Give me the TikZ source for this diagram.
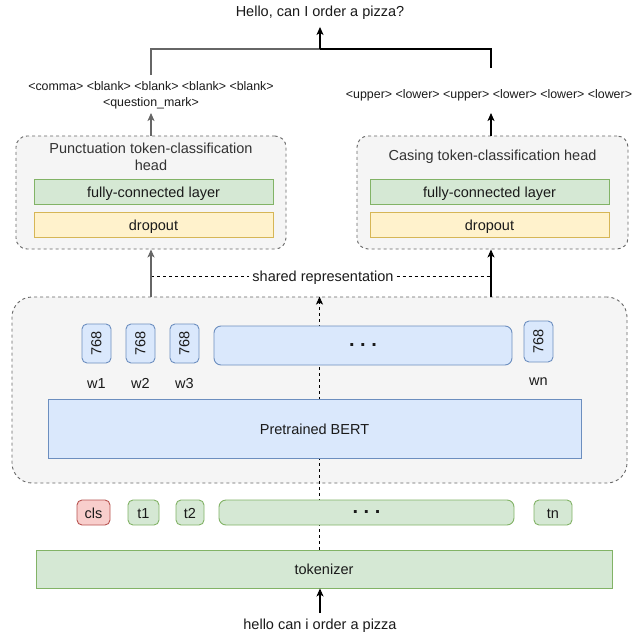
\documentclass[tikz,border=0pt]{standalone}
\usepackage{fontspec}
\usepackage{graphicx}
\setmainfont{Liberation Sans}
\usetikzlibrary{arrows.meta}
\definecolor{txt}{HTML}{1A1A1A}
\definecolor{ttl}{HTML}{333333}
\definecolor{contfill}{HTML}{F5F5F5}
\definecolor{contdraw}{HTML}{666666}
\definecolor{gfill}{HTML}{D5E8D4}
\definecolor{gdraw}{HTML}{82B366}
\definecolor{yfill}{HTML}{FFF2CC}
\definecolor{ydraw}{HTML}{D6B656}
\definecolor{bfill}{HTML}{DAE8FC}
\definecolor{bdraw}{HTML}{6C8EBF}
\definecolor{rfill}{HTML}{F8CECC}
\definecolor{rdraw}{HTML}{B85450}
\definecolor{garr}{HTML}{666666}
\tikzset{
  base/.style={font=\fontsize{14.5}{17}\selectfont, text=txt, inner sep=0pt},
  lbl/.style={base, text height=12pt, text depth=1pt},
  container/.style={draw=contdraw, fill=contfill, dash pattern=on 3pt off 3pt, line width=0.9pt, inner sep=0pt},
  greenbox/.style={draw=gdraw, fill=gfill, line width=0.9pt, lbl},
  yellowbox/.style={draw=ydraw, fill=yfill, line width=0.9pt, lbl},
  bluebox/.style={draw=bdraw, fill=bfill, line width=0.9pt, base},
  bluelbl/.style={draw=bdraw, fill=bfill, line width=0.9pt, lbl},
  redbox/.style={draw=rdraw, fill=rfill, line width=0.9pt, lbl},
  small/.style={font=\fontsize{12.4}{16.5}\selectfont, text=txt, inner sep=0pt, align=center},
  arr/.style={-{Stealth[length=8pt,width=7pt,inset=2pt]}, line width=1.1pt},
  dotsfont/.style={font=\fontsize{20}{20}\selectfont\bfseries\frenchspacing},
}
\begin{document}
\begin{tikzpicture}[x=1pt,y=-1pt]
\fill[white] (0,0) rectangle (633,634);
\useasboundingbox (0,0) rectangle (633,634);

% output text
\node[base, inner sep=7pt] (out) at (320,13) {Hello, can I order a pizza?};

% label rows
\node[small] (plabel) at (151,95.25) {<comma> <blank> <blank> <blank> <blank>\\<question\_mark>};
\node[small] (clabel) at (489,95) {<upper> <lower> <upper> <lower> <lower> <lower>};
\coordinate (pin) at (151,113);
\coordinate (pout) at (151,75);
\coordinate (cin) at (491,113);
\coordinate (cout) at (491,68);
\coordinate (join) at (320,49);

% heads
\node[container, rounded corners=11pt, minimum width=270, minimum height=113] (phead) at (151,192.5) {};
\node[base, text=ttl, align=center] (ptitle) at (151,156.5) {Punctuation token-classification\\head};
\node[greenbox, minimum width=239, minimum height=25] (pfc) at (153.5,191.5) {fully-connected layer};
\node[yellowbox, minimum width=239, minimum height=25] (pdrop) at (153.5,224.5) {dropout};

\node[container, rounded corners=11pt, minimum width=271, minimum height=113] (chead) at (492.5,192.5) {};
\node[base, text=ttl] (ctitle) at (492.5,157) {Casing token-classification head};
\node[greenbox, minimum width=239, minimum height=25] (cfc) at (489.5,191.5) {fully-connected layer};
\node[yellowbox, minimum width=239, minimum height=25] (cdrop) at (489.5,224.5) {dropout};

% tokenizer (outside container)
\node[greenbox, minimum width=576, minimum height=38] (tok) at (324,569) {tokenizer};

% BERT container
\node[container, rounded corners=20pt, minimum width=615, minimum height=186] (cont) at (319.5,390) {};

% central dashed connector, drawn behind the inner boxes
\draw[arr, dash pattern=on 3pt off 3pt, line width=0.9pt] (tok.north -| cont.north) -- (cont.north);

\node[bluebox, rounded corners=5pt, minimum width=29, minimum height=39] (e1) at (96.5,343.5) {\rotatebox{90}{768}};
\node[bluebox, rounded corners=5pt, minimum width=29, minimum height=39] (e2) at (140.5,343.5) {\rotatebox{90}{768}};
\node[bluebox, rounded corners=5pt, minimum width=29, minimum height=39] (e3) at (184.5,343.5) {\rotatebox{90}{768}};
\node[bluebox, rounded corners=7pt, minimum width=298, minimum height=39, dotsfont] (edots) at (363,345.5) {. . .};
\node[bluebox, rounded corners=5pt, minimum width=29, minimum height=41] (en) at (538.5,341.5) {\rotatebox{90}{768}};
\node[lbl] (w1) at (96.5,383) {w1};
\node[lbl] (w2) at (140.5,383) {w2};
\node[lbl] (w3) at (184.5,383) {w3};
\node[lbl] (wn) at (538.5,380) {wn};
\node[bluelbl, minimum width=533, minimum height=59] (bert) at (314.5,428.5) {Pretrained BERT};

% tokens
\node[redbox, rounded corners=5pt, minimum width=33, minimum height=25] (cls) at (93.5,512.5) {cls};
\node[greenbox, rounded corners=5pt, minimum width=31, minimum height=25] (t1) at (143.5,512.5) {t1};
\node[greenbox, rounded corners=5pt, minimum width=28, minimum height=25] (t2) at (190,512.5) {t2};
\node[draw=gdraw, fill=gfill, line width=0.9pt, base, rounded corners=7pt, minimum width=295, minimum height=25, dotsfont] (tdots) at (366.5,512.5) {. . .};
\node[greenbox, rounded corners=5pt, minimum width=38, minimum height=25] (tn) at (553,512.5) {tn};

% input
\node[base, inner sep=6pt] (inp) at (320,626) {hello can i order a pizza};

% connectors
\draw[arr] (inp.north) -- (inp.north |- tok.south);

\node[lbl, fill=white, inner sep=3pt] (shared) at (323,276) {shared representation};
\draw[dash pattern=on 3pt off 3pt, line width=0.9pt] (phead.south |- shared) -- (shared.west);
\draw[dash pattern=on 3pt off 3pt, line width=0.9pt] (shared.east) -- (cin |- shared);

\draw[arr, draw=garr] (phead.south |- cont.north) -- (phead.south);
\draw[arr] (cin |- cont.north) -- (cin |- chead.south);

\draw[arr, draw=garr] (phead.north) -- (pin);
\draw[arr] (cin |- chead.north) -- (cin);

\draw[line width=1.1pt, draw=garr] (pout) |- (join);
\draw[line width=1.1pt] (join) -| (cout);
\draw[arr] (join) -- (out.south);
\end{tikzpicture}
\end{document}
